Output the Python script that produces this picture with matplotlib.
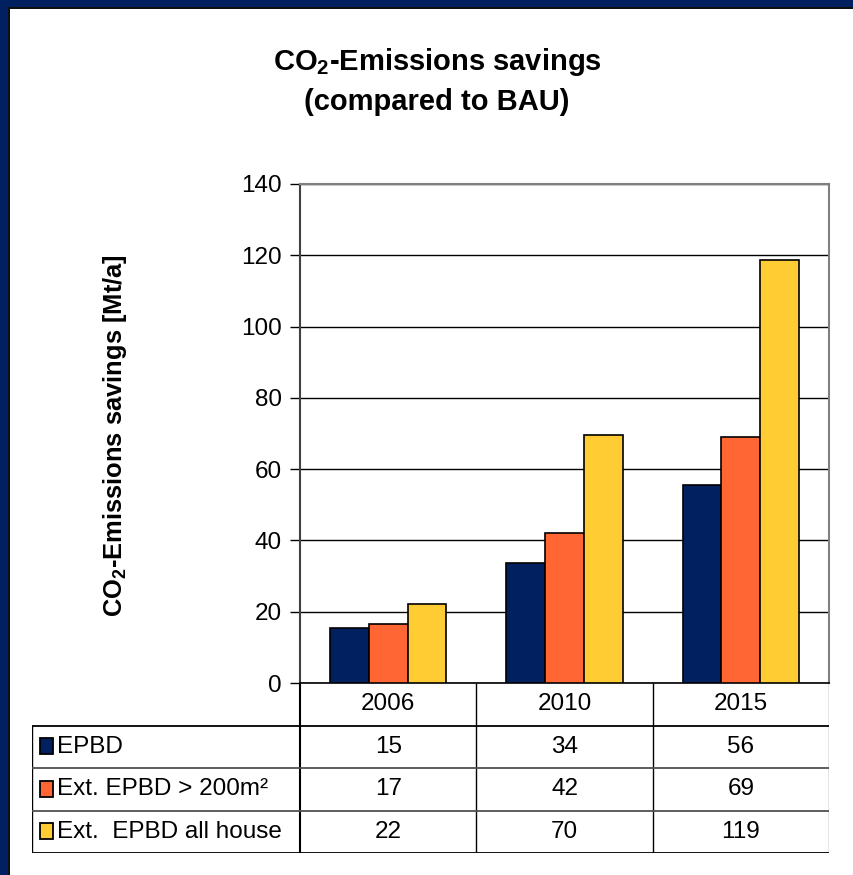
import matplotlib.pyplot as plt
import matplotlib.patches as mpatches
import numpy as np

# --- Data ---
years = ['2006', '2010', '2015']
epbd = [15, 34, 56]
ext_200 = [17, 42, 69]
ext_all = [22, 70, 119]
series_names = ['EPBD', 'Ext. EPBD > 200m\u00b2', 'Ext.  EPBD all house']
series_values = [epbd, ext_200, ext_all]
# bar heights in the picture differ slightly from the table labels
bar_values = [[15.5, 33.8, 55.5], [16.5, 42.0, 69.0], [22.2, 69.7, 118.8]]
colors = ['#002060', '#FF6633', '#FFCC33']
yticks = [0, 20, 40, 60, 80, 100, 120, 140]

plt.rcParams.update({
    'font.family': ['Liberation Sans', 'DejaVu Sans'],
    'mathtext.default': 'regular',
})

W, H = 854, 875
FS = 17.5
fig = plt.figure(figsize=(W / 100, H / 100), dpi=100)
fig.patch.set_facecolor('#002060')

# white panel with thin dark shadow at top/left
fig.patches.append(mpatches.Rectangle((8 / W, 0), 1, 1 - 7 / H, transform=fig.transFigure,
                                      facecolor='#101010', edgecolor='none', zorder=-2))
fig.patches.append(mpatches.Rectangle((10 / W, 0), 1, 1 - 9 / H, transform=fig.transFigure,
                                      facecolor='white', edgecolor='none', zorder=-1))

def fx(px):
    return px / W

def fy(py):
    return 1 - py / H

# --- Main bar chart ---
ax_l, ax_r, ax_t, ax_b = 300, 829, 184, 683
ax = fig.add_axes([fx(ax_l), fy(ax_b), fx(ax_r - ax_l), (ax_b - ax_t) / H], zorder=2)
ax.set_facecolor('none')

x = np.arange(len(years))
width = 0.22
for i, (vals, c) in enumerate(zip(bar_values, colors)):
    ax.bar(x + (i - 1) * width, vals, width, color=c, edgecolor='black',
           linewidth=1.2, zorder=3)

ax.set_xlim(-0.5, 2.5)
ax.set_ylim(0, 140)
ax.set_yticks(yticks)
ax.set_yticklabels([str(v) for v in yticks], fontsize=FS)
ax.set_xticks([])
ax.tick_params(axis='y', direction='out', length=7, width=1, pad=6)
ax.yaxis.grid(True, color='black', linewidth=1, zorder=1)
ax.set_axisbelow(True)
for side in ['top', 'right']:
    ax.spines[side].set_color('#808080')
    ax.spines[side].set_linewidth(1.5)
ax.spines['left'].set_color('#404040')
ax.spines['left'].set_linewidth(1.5)
ax.spines['bottom'].set_color('black')
ax.spines['bottom'].set_linewidth(1.2)

# --- Title and y label ---
fig.text(fx(437), fy(62), r'CO$_2$-Emissions savings', ha='center', va='center',
         fontsize=21, fontweight='bold')
fig.text(fx(437), fy(102), '(compared to BAU)', ha='center', va='center',
         fontsize=21, fontweight='bold')
fig.text(fx(115), fy(436), r'CO$_2$-Emissions savings [Mt/a]', ha='center', va='center',
         rotation=90, fontsize=18.4, fontweight='bold')

# --- Data table ---
tb_l, tb_t, tb_b = 32, 683, 853
tax = fig.add_axes([fx(tb_l), fy(tb_b), fx(ax_r - tb_l), (tb_b - tb_t) / H], zorder=1)
tax.axis('off')
col_w = (ax_r - ax_l) / 3
lab_w = (ax_l - tb_l) / col_w
tax.set_xlim(-0.5 - lab_w, 2.5)
tax.set_ylim(4, 0)

lw = 1.0
# header row vertical lines
for xv in [-0.5, 0.5, 1.5, 2.5]:
    tax.plot([xv, xv], [0, 4], color='black' if xv < 2.5 else '#808080',
             lw=lw + (0.5 if xv == -0.5 else 0), solid_capstyle='butt')
tax.plot([-0.5 - lab_w, -0.5 - lab_w], [1, 4], color='black', lw=lw)
for yv in [1, 2, 3, 4]:
    tax.plot([-0.5 - lab_w, 2.5], [yv, yv], color='#505050' if yv in (2, 3) else 'black',
             lw=lw + 0.3)

for j, yr in enumerate(years):
    tax.text(j, 0.5, yr, ha='center', va='center', fontsize=FS)

for i, (name, vals, c) in enumerate(zip(series_names, series_values, colors)):
    row = i + 1.5
    tax.add_patch(mpatches.Rectangle((-0.5 - lab_w + 0.045, row - 0.2), 0.072, 0.38,
                                     facecolor=c, edgecolor='black', lw=1.3))
    tax.text(-0.5 - lab_w + 0.14, row, name, ha='left', va='center', fontsize=FS)
    for j, v in enumerate(vals):
        tax.text(j, row, str(v), ha='center', va='center', fontsize=FS)

fig.savefig('out.png', dpi=100, facecolor=fig.get_facecolor())
